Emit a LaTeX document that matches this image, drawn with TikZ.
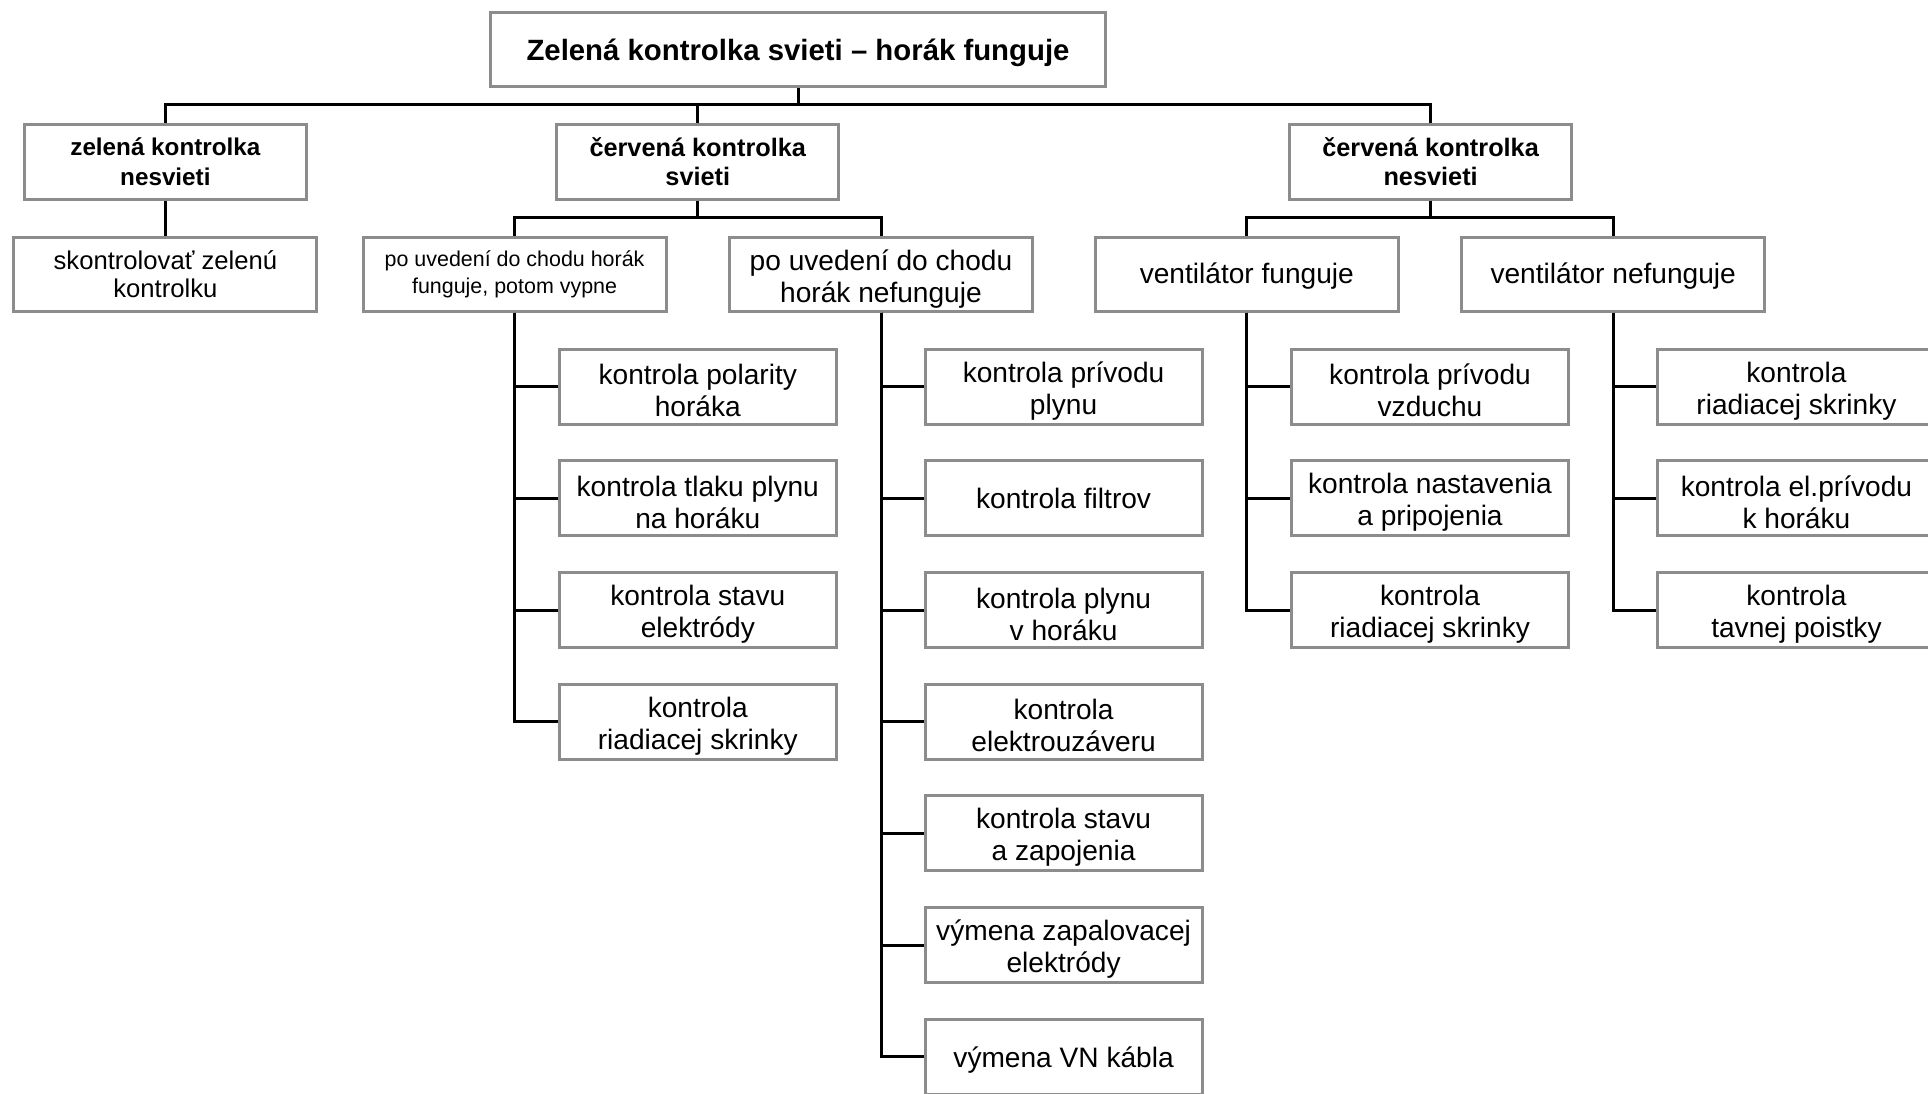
\documentclass[tikz,border=0pt]{standalone}
\usepackage{fontspec}
\setmainfont{Liberation Sans}
\usetikzlibrary{calc}
\definecolor{boxgray}{HTML}{8C8C8C}
\tikzset{
	box/.style={draw=boxgray,line width=0.85pt,align=center,inner sep=0pt,minimum height=0.75cm,font=\fontsize{8}{9.1}\selectfont},%
	rootbox/.style={box,minimum width=6.15cm,minimum height=0.74cm,text height=8pt,font=\bfseries\fontsize{8.35}{9.5}\selectfont},%
	mainbox/.style={box,minimum width=2.82cm,font=\bfseries\fontsize{7.2}{8.4}\selectfont},%
	subbox/.style={box,minimum width=3.03cm,minimum height=0.74cm},%
	checkbox/.style={box,minimum width=2.77cm},%
	link/.style={black,line width=0.85pt},%
}
\begin{document}
\begin{tikzpicture}[x=0.0123cm,y=-0.0123cm]
		\useasboundingbox (0,0) rectangle (1568,889);
		% Top levels {{{
		\node[rootbox] (root) at (649,40) {Zelená kontrolka svieti – horák funguje};
		\node[mainbox,font=\bfseries\fontsize{6.9}{8.4}\selectfont] (zel) at (134.5,131.5) {zelená kontrolka\\nesvieti};
		\node[mainbox] (cerv) at (567.5,131.5) {červená kontrolka\\svieti};
		\node[mainbox] (cervne) at (1163.5,131.5) {červená kontrolka\\nesvieti};
		\node[subbox,font=\fontsize{7.3}{8.1}\selectfont] (zelchk) at (134.5,223) {skontrolovať zelenú\\kontrolku};
		\node[subbox,font=\fontsize{6.1}{7.6}\selectfont] (vypne) at (418.5,223) {po uvedení do chodu horák\\funguje, potom vypne};
		\node[subbox,text height=17.7pt] (nefunguje) at (716.5,223) {po uvedení do chodu\\horák nefunguje};
		\node[subbox,text height=7.2pt] (ventok) at (1014,223) {ventilátor funguje};
		\node[subbox,text height=7.2pt] (ventno) at (1312,223) {ventilátor nefunguje};
		% }}}
		% Joints {{{
		\coordinate (rootj) at (649,85);
		\coordinate (cervj) at (567.5,177);
		\coordinate (cervnej) at (1163.5,177);
		\draw[link] (root.south) -- (rootj);
		\draw[link] (rootj) -| (zel.north);
		\draw[link] (rootj) -| (cerv.north);
		\draw[link] (rootj) -| (cervne.north);
		\draw[link] (zel.south) -- (zelchk.north);
		\draw[link] (cerv.south) -- (cervj);
		\draw[link] (cervj) -| (vypne.north);
		\draw[link] (cervj) -| (nefunguje.north);
		\draw[link] (cervne.south) -- (cervnej);
		\draw[link] (cervnej) -| (ventok.north);
		\draw[link] (cervnej) -| (ventno.north);
		% }}}
		% Checks {{{
		\foreach \txt/\th [count=\i] in {{kontrola polarity\\horáka}/17.2pt,{kontrola tlaku plynu\\na horáku}/17.2pt,{kontrola stavu\\elektródy}/17.2pt,{kontrola\\riadiacej skrinky}/17.2pt}{
			\node[checkbox,text height=\th] (vypne-\i) at (567.5,{314.5+90.83*(\i-1)}) {\txt};
			\draw[link] (vypne.south) |- (vypne-\i.west);
		}
		\foreach \txt/\th [count=\i] in {{kontrola prívodu\\plynu}/17.2pt,{kontrola filtrov}/5.8pt,{kontrola plynu\\v horáku}/17.2pt,{kontrola\\elektrouzáveru}/17.2pt,{kontrola stavu\\a zapojenia}/17.2pt,{výmena zapalovacej\\elektródy}/17.2pt,{výmena VN kábla}/7.9pt}{
			\node[checkbox,text height=\th] (nefunguje-\i) at (865,{314.5+90.83*(\i-1)}) {\txt};
			\draw[link] (nefunguje.south) |- (nefunguje-\i.west);
		}
		\foreach \txt/\th [count=\i] in {{kontrola prívodu\\vzduchu}/17.2pt,{kontrola nastavenia\\a pripojenia}/17.2pt,{kontrola\\riadiacej skrinky}/17.2pt}{
			\node[checkbox,text height=\th] (ventok-\i) at (1163,{314.5+90.83*(\i-1)}) {\txt};
			\draw[link] (ventok.south) |- (ventok-\i.west);
		}
		\foreach \txt/\th [count=\i] in {{kontrola\\riadiacej skrinky}/17.2pt,{kontrola el.prívodu\\k horáku}/17.2pt,{kontrola\\tavnej poistky}/17.2pt}{
			\node[checkbox,text height=\th] (ventno-\i) at (1461,{314.5+90.83*(\i-1)}) {\txt};
			\draw[link] (ventno.south) |- (ventno-\i.west);
		}
		% }}}
	\end{tikzpicture}
\end{document}
